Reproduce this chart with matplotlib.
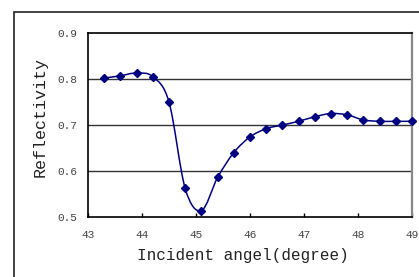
import numpy as np
import matplotlib.pyplot as plt
from matplotlib.path import Path
from matplotlib.patches import PathPatch, Rectangle

angle = [43.3, 43.6, 43.9, 44.2, 44.5, 44.8, 45.1, 45.4, 45.7, 46.0,
         46.3, 46.6, 46.9, 47.2, 47.5, 47.8, 48.1, 48.4, 48.7, 49.0]
refl = [0.802, 0.807, 0.813, 0.805, 0.750, 0.562, 0.514, 0.586, 0.640, 0.674,
        0.692, 0.700, 0.708, 0.718, 0.725, 0.722, 0.711, 0.708, 0.708, 0.708]
xticks = [43, 44, 45, 46, 47, 48, 49]
yticks = [0.5, 0.6, 0.7, 0.8, 0.9]

navy = '#000080'
plt.rcParams['font.family'] = ['Liberation Mono', 'DejaVu Sans Mono']

fig = plt.figure(figsize=(4.19, 2.77), dpi=100)
ax = fig.add_axes([88/419, 1 - 217/277, 324/419, 184/277])

# outer chart frame
fig.patches.append(Rectangle((14/419, -0.1), 1.2, 1 - 12/277 + 0.1,
                             transform=fig.transFigure, fill=False,
                             edgecolor='#222222', lw=1.2))

# smoothed line (bezier through the points, excel style)
x = np.array(angle)
y = np.array(refl)
verts = [(x[0], y[0])]
codes = [Path.MOVETO]
n = len(x)
for i in range(n - 1):
    p0 = (x[max(i - 1, 0)], y[max(i - 1, 0)])
    p1 = (x[i], y[i])
    p2 = (x[i + 1], y[i + 1])
    p3 = (x[min(i + 2, n - 1)], y[min(i + 2, n - 1)])
    c1 = (p1[0] + (p2[0] - p0[0]) / 6, p1[1] + (p2[1] - p0[1]) / 6)
    c2 = (p2[0] - (p3[0] - p1[0]) / 6, p2[1] - (p3[1] - p1[1]) / 6)
    verts += [c1, c2, p2]
    codes += [Path.CURVE4] * 3
ax.add_patch(PathPatch(Path(verts, codes), fill=False, edgecolor=navy, lw=1.1, zorder=3))
ax.plot(angle, refl, ls='none', marker='D', ms=4.5, color=navy, zorder=4, clip_on=False)

ax.set_xlim(43, 49)
ax.set_ylim(0.5, 0.9)
ax.set_xticks(xticks)
ax.set_yticks(yticks)
ax.set_xticklabels([str(t) for t in xticks])
ax.set_yticklabels(['%.1f' % t for t in yticks])
for yv in yticks[1:-1]:
    ax.axhline(yv, color='#333333', lw=1, zorder=1)

ax.tick_params(axis='x', direction='in', length=3, width=1, labelsize=8,
               colors='black', labelcolor='#444444', pad=9)
ax.tick_params(axis='y', direction='out', length=0, labelsize=8,
               labelcolor='#444444', pad=8)

ax.spines['left'].set_color('black')
ax.spines['bottom'].set_color('black')
ax.spines['top'].set_color('black')
ax.spines['right'].set_color('#888888')
ax.spines['right'].set_linewidth(1.6)
for s in ['left', 'bottom', 'top']:
    ax.spines[s].set_linewidth(1.2)

ax.set_xlabel('Incident angel(degree)', fontsize=11.5, color='#222222', va='center')
ax.xaxis.set_label_coords(0.478, -0.207)
ax.set_ylabel('Reflectivity', fontsize=12, color='#222222', va='center')
ax.yaxis.set_label_coords(-0.148, 0.543)

plt.savefig('out.png', dpi=100)
